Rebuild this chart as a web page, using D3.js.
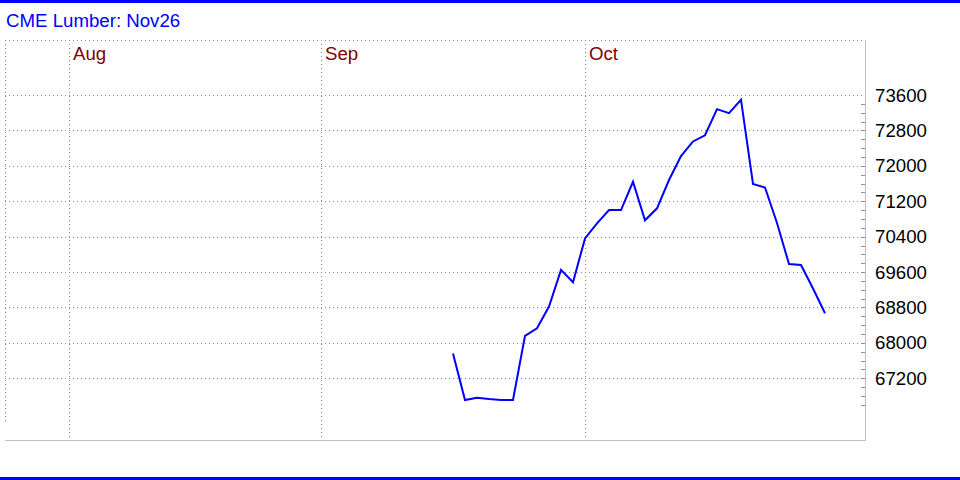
<!DOCTYPE html>
<html>
<head>
<meta charset="utf-8">
<script src="https://cdn.jsdelivr.net/npm/d3@7"></script>
<style>
  html, body { margin: 0; padding: 0; background: #fff; }
  svg { display: block; }
  text { font-family: Arial, "Liberation Sans", sans-serif; }
</style>
</head>
<body>
<svg id="chart" width="960" height="480"></svg>
<script>
// ---- data ----
const title = "CME Lumber: Nov26";
const dates = [
  "2025-09-16","2025-09-17","2025-09-18","2025-09-19","2025-09-22","2025-09-23",
  "2025-09-24","2025-09-25","2025-09-26","2025-09-29","2025-09-30","2025-10-01",
  "2025-10-02","2025-10-03","2025-10-06","2025-10-07","2025-10-08","2025-10-09",
  "2025-10-10","2025-10-13","2025-10-14","2025-10-15","2025-10-16","2025-10-17",
  "2025-10-20","2025-10-21","2025-10-22","2025-10-23","2025-10-24","2025-10-27",
  "2025-10-28","2025-10-29"
];
const closes = [
  67760, 66710, 66760, 66730, 66710, 66710,
  68160, 68330, 68820, 69650, 69370, 70360,
  70700, 71000, 71000, 71640, 70770, 71040,
  71680, 72220, 72550, 72690, 73280, 73190,
  73490, 71590, 71510, 70710, 69780, 69760,
  69230, 68670
];
const monthStarts = ["2025-08-01", "2025-09-01", "2025-10-01"];
const monthLabels = ["Aug", "Sep", "Oct"];
const yTicks = [67200, 68000, 68800, 69600, 70400, 71200, 72000, 72800, 73600];
const yMinorTicks = d3.range(66600, 73401, 200);

// ---- helpers ----
const parse = d3.timeParse("%Y-%m-%d");
const origin = parse("2025-08-01");
function weekdayIndex(dstr) {
  const d = parse(dstr);
  const days = d3.timeDays(origin, d);
  return days.filter(x => x.getDay() !== 0 && x.getDay() !== 6).length;
}

// ---- layout ----
const plotL = 5, plotR = 865, plotT = 40, plotB = 440;
const x = d3.scaleLinear().domain([0, 21]).range([69, 321]);
const y = d3.scaleLinear().domain([67200, 73600]).range([378.3, 95]);

const svg = d3.select("#chart");
svg.append("rect").attr("width", 960).attr("height", 480).attr("fill", "#fff");

// top & bottom blue bars
svg.append("rect").attr("x", 0).attr("y", 0).attr("width", 960).attr("height", 3).attr("fill", "#0000ff");
svg.append("rect").attr("x", 0).attr("y", 477).attr("width", 960).attr("height", 3).attr("fill", "#0000ff");

// title
svg.append("text").attr("x", 6).attr("y", 27).attr("fill", "#0000ff")
  .style("font-size", "18.67px").text(title);

const dot = "1,3";
const gridColor = "#8c8c8c";

// top dotted border
svg.append("line").attr("x1", plotL).attr("x2", plotR).attr("y1", plotT + 0.5).attr("y2", plotT + 0.5)
  .attr("stroke", gridColor).attr("stroke-dasharray", dot);
// left dotted border
svg.append("line").attr("x1", plotL + 0.5).attr("x2", plotL + 0.5).attr("y1", plotT).attr("y2", 421)
  .attr("stroke", gridColor).attr("stroke-dasharray", dot);

// horizontal gridlines
svg.append("g").selectAll("line").data(yTicks).join("line")
  .attr("x1", plotL).attr("x2", plotR)
  .attr("y1", d => Math.round(y(d)) + 0.5).attr("y2", d => Math.round(y(d)) + 0.5)
  .attr("stroke", gridColor).attr("stroke-dasharray", dot);

// month gridlines & labels
const mg = svg.append("g");
mg.selectAll("line").data(monthStarts).join("line")
  .attr("x1", d => Math.round(x(weekdayIndex(d))) + 0.5)
  .attr("x2", d => Math.round(x(weekdayIndex(d))) + 0.5)
  .attr("y1", plotT).attr("y2", 437)
  .attr("stroke", gridColor).attr("stroke-dasharray", dot);
mg.selectAll("text").data(monthStarts).join("text")
  .attr("x", d => x(weekdayIndex(d)) + 4).attr("y", 60)
  .attr("fill", "#800000").style("font-size", "18.67px")
  .text((d, i) => monthLabels[i]);

// right axis line & bottom line
svg.append("line").attr("x1", plotR + 0.5).attr("x2", plotR + 0.5).attr("y1", plotT).attr("y2", plotB + 1)
  .attr("stroke", "#c0c0c0");
svg.append("line").attr("x1", plotL).attr("x2", plotR + 1).attr("y1", plotB + 0.5).attr("y2", plotB + 0.5)
  .attr("stroke", "#c0c0c0");

// minor ticks
svg.append("g").selectAll("line").data(yMinorTicks).join("line")
  .attr("x1", plotR - 4).attr("x2", plotR)
  .attr("y1", d => Math.round(y(d)) + 0.5).attr("y2", d => Math.round(y(d)) + 0.5)
  .attr("stroke", "#909090");

// y labels
svg.append("g").selectAll("text").data(yTicks).join("text")
  .attr("x", 875).attr("y", d => y(d) + 6.6)
  .attr("fill", "#000").style("font-size", "18.67px")
  .text(d => d);

// price line
const pts = dates.map((d, i) => [weekdayIndex(d), closes[i]]);
svg.append("path").datum(pts)
  .attr("fill", "none").attr("stroke", "#0000ff").attr("stroke-width", 2)
  .attr("stroke-linejoin", "miter")
  .attr("d", d3.line().x(d => x(d[0])).y(d => y(d[1])));
</script>
</body>
</html>
